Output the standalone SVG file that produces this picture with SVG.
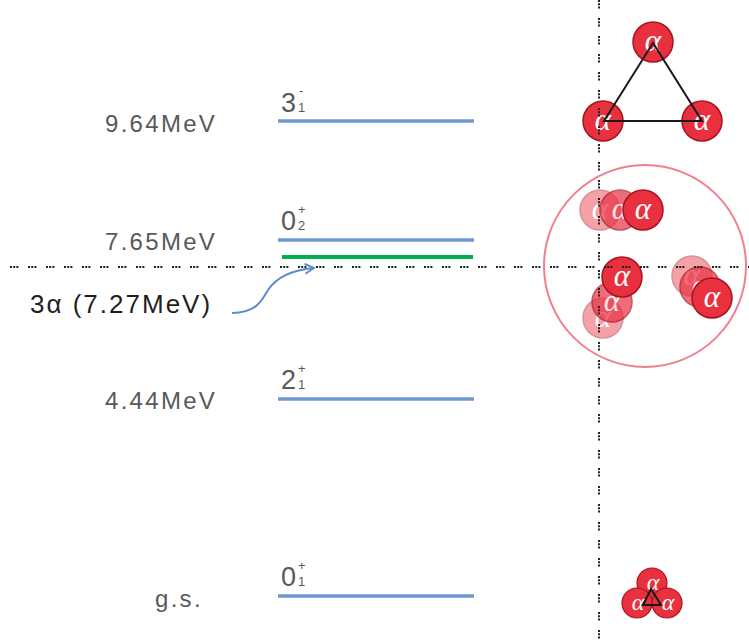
<svg xmlns="http://www.w3.org/2000/svg" width="749" height="642" viewBox="0 0 749 642">
  <defs>
    <style>
      .energy { font-family: "Liberation Sans", Arial, sans-serif; font-size: 24px; fill: #595959; letter-spacing: 2.3px; }
      .jp { font-family: "Liberation Sans", Arial, sans-serif; font-size: 27px; fill: #595959; }
      .jpsub { font-family: "Liberation Sans", Arial, sans-serif; font-size: 13px; fill: #595959; }
      .level { stroke: #7096d0; stroke-width: 3.5; fill: none; }
      .alpha circle { fill: #e8303f; stroke: #a8121f; stroke-width: 1.5; }
      .alpha text { font-family: "Liberation Serif", "DejaVu Serif", serif; font-style: italic; font-size: 31px; fill: #ffffff; text-anchor: middle; }
      .small circle { fill: #e8303f; stroke: #a8121f; stroke-width: 1.2; }
      .small text { font-family: "Liberation Serif", "DejaVu Serif", serif; font-style: italic; font-size: 24px; fill: #ffffff; text-anchor: middle; }
      .dots { stroke: #222222; stroke-width: 2; stroke-dasharray: 2 1.2 2 1.2 2 9.6; fill: none; }
    </style>
    <g id="alphaBig" class="alpha">
      <circle cx="0" cy="0" r="20"/>
      <text x="0" y="9">α</text>
    </g>
    <g id="alphaSmall" class="small">
      <circle cx="0" cy="0" r="15"/>
      <text x="1" y="7">α</text>
    </g>
    <marker id="openArrow" viewBox="0 0 12 12" refX="10" refY="6" markerWidth="12" markerHeight="12" markerUnits="userSpaceOnUse" orient="auto">
      <path d="M1,1 L10,6 L1,11" fill="none" stroke="#5b8ccc" stroke-width="2"/>
    </marker>
  </defs>

  <rect width="749" height="642" fill="#ffffff"/>

  <!-- energy labels -->
  <g id="labels">
    <text class="energy" x="105" y="132">9.64MeV</text>
    <text class="energy" x="105" y="250">7.65MeV</text>
    <text class="energy" x="105" y="409">4.44MeV</text>
    <text class="energy" x="155" y="607">g.s.</text>
  </g>

  <!-- levels -->
  <g id="level-3minus1">
    <line class="level" x1="278" y1="121" x2="474" y2="121"/>
    <text class="jp" x="281" y="112">3</text>
    <text class="jpsub" x="298" y="112">1</text>
    <text class="jpsub" x="299" y="95">-</text>
  </g>
  <g id="level-0plus2">
    <line class="level" x1="278" y1="240" x2="474" y2="240"/>
    <text class="jp" x="281" y="230">0</text>
    <text class="jpsub" x="298" y="230">2</text>
    <text class="jpsub" x="298" y="214">+</text>
  </g>
  <g id="threshold">
    <line x1="282" y1="257" x2="473" y2="257" stroke="#00b050" stroke-width="4"/>
  </g>
  <g id="level-2plus1">
    <line class="level" x1="278" y1="399" x2="474" y2="399"/>
    <text class="jp" x="281" y="389">2</text>
    <text class="jpsub" x="298" y="389">1</text>
    <text class="jpsub" x="298" y="373">+</text>
  </g>
  <g id="level-0plus1">
    <line class="level" x1="278" y1="596" x2="474" y2="596"/>
    <text class="jp" x="281" y="586">0</text>
    <text class="jpsub" x="298" y="586">1</text>
    <text class="jpsub" x="298" y="570">+</text>
  </g>

  <g id="threshold-label">
    <text x="30" y="313" font-family="'Liberation Sans', Arial, sans-serif" font-size="26" letter-spacing="2" fill="#1f1f1f">3α (7.27MeV)</text>
  </g>

  <!-- connectors -->
  <g id="connectors">
    <path d="M232,313 C258,313 263,298 268,290 C276,278 292,270 314,268" fill="none" stroke="#5b8ccc" stroke-width="2" marker-end="url(#openArrow)"/>
  </g>

  <!-- triangular 3-alpha configuration -->
  <g id="triangle-cluster">
    <use href="#alphaBig" x="653" y="42"/>
    <use href="#alphaBig" x="603" y="121"/>
    <use href="#alphaBig" x="702" y="121"/>
    <polygon points="653,43 604,121 702,121" fill="none" stroke="#1a1a1a" stroke-width="2"/>
  </g>

  <!-- Hoyle state: dilute alpha gas -->
  <g id="hoyle-gas">
    <circle cx="645" cy="266" r="101" fill="none" stroke="#f0808f" stroke-width="2"/>
    <use href="#alphaBig" x="600" y="210" opacity="0.45"/>
    <use href="#alphaBig" x="620" y="210" opacity="0.7"/>
    <use href="#alphaBig" x="643" y="210"/>
    <use href="#alphaBig" x="603" y="318" opacity="0.45"/>
    <use href="#alphaBig" x="612" y="302" opacity="0.7"/>
    <use href="#alphaBig" x="622" y="277"/>
    <use href="#alphaBig" x="692" y="276" opacity="0.45"/>
    <use href="#alphaBig" x="700" y="287" opacity="0.7"/>
    <use href="#alphaBig" x="712" y="298"/>
  </g>

  <!-- ground state: compact cluster -->
  <g id="ground-cluster">
    <use href="#alphaSmall" x="652" y="583"/>
    <use href="#alphaSmall" x="637" y="603"/>
    <use href="#alphaSmall" x="667" y="603"/>
    <polygon points="651,589 643,605 661,605" fill="none" stroke="#1a1a1a" stroke-width="2"/>
  </g>

  <!-- guide lines -->
  <g id="guides">
    <line class="dots" x1="599" y1="0" x2="599" y2="642"/>
    <line class="dots" x1="10" y1="267" x2="749" y2="267"/>
  </g>
</svg>
